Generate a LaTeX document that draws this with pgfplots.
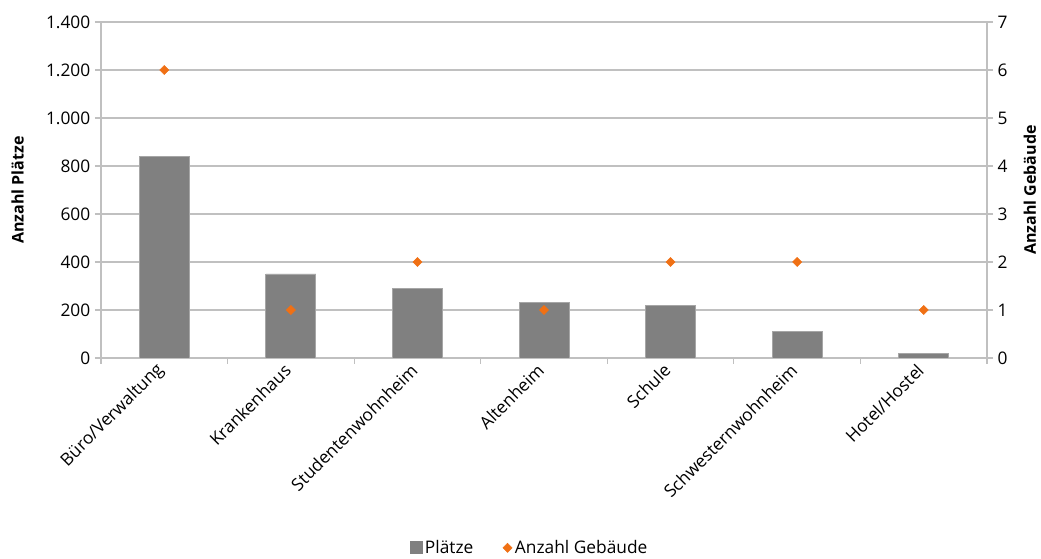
\documentclass[border=0pt]{standalone}
\usepackage{fontspec}
\setmainfont{Open Sans}
\usepackage{pgfplots}
\pgfplotsset{compat=1.18}

\definecolor{barfill}{HTML}{808080}
\definecolor{baredge}{HTML}{A6A6A6}
\definecolor{gridc}{HTML}{C0C0C0}
\definecolor{markc}{HTML}{F07014}

\pgfplotsset{
  common/.style={
    scale only axis, width=664.5pt, height=252pt,
    at={(0,0)}, anchor=south west,
    xmin=-0.5, xmax=6.5, ymin=0,
    tick align=outside, major tick length=4.5pt, minor tick length=4.5pt,
    tick style={gridc, line width=0.8pt},
    axis line style={gridc, line width=0.8pt},
    ticklabel style={font=\fontsize{13}{15}\selectfont},
    /pgf/number format/assume math mode=true,
    /pgf/number format/1000 sep={.},
    label style={font=\bfseries\fontsize{12}{14}\selectfont},
  },
}

\begin{document}
\begin{tikzpicture}
\path[use as bounding box] (-75.75pt,-150.75pt) rectangle (705pt,268.5pt);

% seats per building type (left scale)
\begin{axis}[common,
  ymax=1400, ytick={0,200,...,1400},
  axis x line*=bottom, axis y line*=left,
  ymajorgrids, grid style={gridc, line width=0.8pt},
  xtick={0,...,6},
  xticklabels={Büro/Verwaltung, Krankenhaus, Studentenwohnheim, Altenheim, Schule, Schwesternwohnheim, Hotel/Hostel},
  major x tick style={draw=none},
  minor xtick={-0.5,0.5,...,6.5},
  xticklabel style={rotate=45, anchor=east, font=\fontsize{13}{15}\selectfont},
  ylabel={Anzahl Plätze},
  ylabel style={at={(axis description cs:-0.094,0.5)}, anchor=center, rotate=0},
  legend style={draw=none, at={(0.484,-0.565)}, anchor=center,
    legend columns=2, font=\fontsize{13}{15}\selectfont,
    /tikz/every even column/.append style={column sep=20pt}},
  legend image code/.code={\fill[barfill] (0pt,-4.5pt) rectangle (9pt,4.5pt);},
]
\addplot[ybar, bar width=37.5pt, fill=barfill, draw=baredge, line width=0.6pt]
  coordinates {(0,840) (1,350) (2,290) (3,230) (4,220) (5,110) (6,20)};
\addlegendentry{Plätze}
\addlegendimage{legend image code/.code={\fill[markc] (4.5pt,-3.4pt) -- (7.9pt,0pt) -- (4.5pt,3.4pt) -- (1.1pt,0pt) -- cycle;}}
\addlegendentry{Anzahl Gebäude}
\end{axis}

% number of buildings (right scale)
\begin{axis}[common,
  ymax=7, ytick={0,...,7},
  axis x line=none, axis y line*=right,
  ylabel={Anzahl Gebäude},
  ylabel style={at={(axis description cs:1.0485,0.5)}, anchor=center, rotate=0},
]
\addplot[only marks, mark=square*, mark size=2.4pt, color=markc, mark options={rotate=45}]
  coordinates {(0,6) (1,1) (2,2) (3,1) (4,2) (5,2) (6,1)};
\end{axis}
\end{tikzpicture}
\end{document}
